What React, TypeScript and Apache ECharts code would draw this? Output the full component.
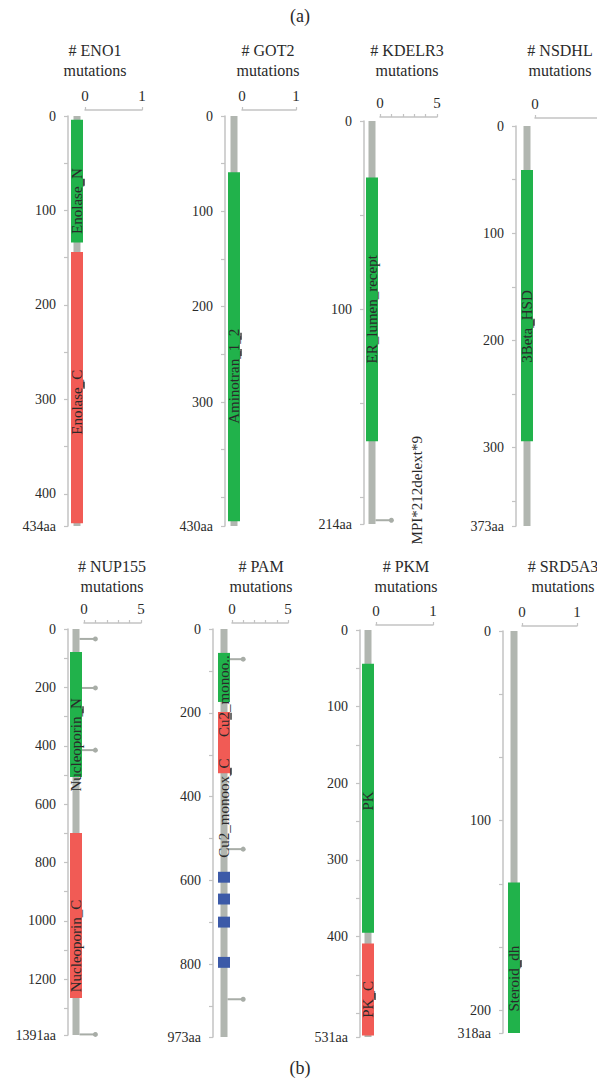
import React, { useEffect, useRef } from "react";
import * as echarts from "echarts";

// ---------------- data ----------------
const proteins = ["ENO1", "GOT2", "KDELR3", "NSDHL", "NUP155", "PAM", "PKM", "SRD5A3"];
const proteinLengths = [434, 430, 214, 373, 1391, 973, 531, 318];
const maxMutationCounts = [1, 1, 5, 1, 5, 5, 1, 1];
const positionTickSteps = [50, 50, 50, 50, 100, 100, 50, 50];
const positionTickLabels: [number, string][][] = [
  [[0, "0"], [100, "100"], [200, "200"], [300, "300"], [400, "400"]],
  [[0, "0"], [100, "100"], [200, "200"], [300, "300"]],
  [[0, "0"], [100, "100"]],
  [[0, "0"], [100, "100"], [200, "200"], [300, "300"]],
  [[0, "0"], [200, "200"], [400, "400"], [600, "600"], [800, "800"], [1000, "1000"], [1200, "1200"]],
  [[0, "0"], [200, "200"], [400, "400"], [600, "600"], [800, "800"]],
  [[0, "0"], [100, "100"], [200, "200"], [300, "300"], [400, "400"]],
  [[0, "0"], [150, "100"], [300, "200"]],
];
// count-axis labels shown (the NSDHL "1" falls outside the picture)
const countAxisLabels: string[][] = [
  ["0", "1"], ["0", "1"], ["0", "5"], ["0"], ["0", "5"], ["0", "5"], ["0", "1"], ["0", "1"],
];

// [protein, label, start aa, end aa, kind, label centre aa]
const domains: [string, string, number, number, string, number | null][] = [
  ["ENO1", "Enolase_N", 4, 134, "N", 90],
  ["ENO1", "Enolase_C", 144, 431, "C", 303],
  ["GOT2", "Aminotran_1_2", 59, 425, "N", 273],
  ["KDELR3", "ER_lumen_recept", 30, 170, "N", 100],
  ["NSDHL", "3Beta_HSD", 41, 294, "N", 187],
  ["NUP155", "Nucleoporin_N", 79, 507, "N", 397],
  ["NUP155", "Nucleoporin_C", 699, 1264, "C", 1086],
  ["PAM", "Cu2_monoo..", 57, 174, "N", 160],
  ["PAM", "Cu2_monoox_C", 198, 344, "C", 427],
  ["PAM", "", 579, 605, "R", null],
  ["PAM", "", 631, 657, "R", null],
  ["PAM", "", 686, 712, "R", null],
  ["PAM", "", 782, 808, "R", null],
  ["PKM", "PK", 44, 395, "N", 223],
  ["PKM", "PK_C", 409, 529, "C", 482],
  ["SRD5A3", "Steroid_dh", 199, 318, "N", 275],
];

// [protein, aa, count, label]
const mutations: [string, number, number, string][] = [
  ["KDELR3", 212, 1, "MPI*212delext*9"],
  ["NUP155", 34, 1, ""],
  ["NUP155", 202, 1, ""],
  ["NUP155", 415, 1, ""],
  ["NUP155", 1389, 1, ""],
  ["PAM", 72, 1, ""],
  ["PAM", 525, 1, ""],
  ["PAM", 883, 1, ""],
];

// [protein, aa]
const markers: [string, number][] = [
  ["ENO1", 70], ["ENO1", 285],
  ["GOT2", 231], ["GOT2", 248],
  ["NSDHL", 183],
  ["NUP155", 277],
  ["PAM", 208], ["PAM", 339],
  ["PKM", 478],
  ["SRD5A3", 263],
];

// ---------------- layout / style ----------------
const layout = [
  { x0: 85, top: 116, height: 410, width: 57, yOff: 17, xOff: 6, titleX: 95, titleY: 40 },
  { x0: 242, top: 116, height: 410, width: 54, yOff: 17, xOff: 6, titleX: 268, titleY: 40 },
  { x0: 380, top: 121, height: 403, width: 57, yOff: 16, xOff: 4, titleX: 407, titleY: 40 },
  { x0: 535, top: 126, height: 400, width: 70, yOff: 19, xOff: 8, titleX: 560, titleY: 40 },
  { x0: 84, top: 629, height: 406, width: 57, yOff: 16, xOff: 6, titleX: 112, titleY: 556 },
  { x0: 232, top: 629, height: 408, width: 56, yOff: 19, xOff: 6, titleX: 261, titleY: 556 },
  { x0: 376, top: 630, height: 407, width: 57, yOff: 16, xOff: 5, titleX: 406, titleY: 556 },
  { x0: 522, top: 631, height: 402, width: 55, yOff: 19, xOff: 5, titleX: 563, titleY: 556 },
];

const FONT = "'Liberation Serif', 'Times New Roman', 'DejaVu Serif', serif";
const TEXT = "#2a2a2a";
const AXIS = "#c3c3c3";
const BACKBONE = "#b1b6b0";
const STEM = "#a8ada7";
const KIND_COLORS: Record<string, string> = { N: "#21b24b", C: "#f15b55", R: "#3c5aa8" };
const BACKBONE_SHIFT = 8;

function buildOption() {
  const grid: any[] = [];
  const xAxis: any[] = [];
  const yAxis: any[] = [];
  const series: any[] = [];
  const graphic: any[] = [];

  proteins.forEach((p, i) => {
    const l = layout[i];
    const L = proteinLengths[i];
    const maxC = maxMutationCounts[i];
    const labelMap = new Map<number, string>(positionTickLabels[i]);
    const countLabels = countAxisLabels[i];
    grid.push({ left: l.x0, top: l.top, width: l.width, height: l.height, containLabel: false, outerBoundsMode: "none" });
    xAxis.push({
      gridIndex: i, type: "value", position: "top", offset: l.xOff, min: 0, max: maxC, interval: 1,
      axisLine: { show: true, onZero: false, lineStyle: { color: AXIS, width: 1.5 } },
      axisTick: { show: true, length: 3, lineStyle: { color: AXIS, width: 1.2 } },
      axisLabel: {
        show: true, margin: 7, fontSize: 15, fontFamily: FONT, color: TEXT, hideOverlap: false,
        formatter: (v: number) => (countLabels.includes(String(v)) && (v === 0 || v === maxC) ? String(v) : ""),
      },
      splitLine: { show: false },
    });
    yAxis.push({
      gridIndex: i, type: "value", position: "left", offset: l.yOff, inverse: true, min: 0, max: L,
      interval: positionTickSteps[i],
      axisLine: { show: true, onZero: false, lineStyle: { color: AXIS, width: 1.5 } },
      axisTick: { show: true, length: 4, lineStyle: { color: AXIS, width: 1.2 } },
      axisLabel: {
        show: true, margin: 12, fontSize: 14, fontFamily: FONT, color: TEXT, hideOverlap: false,
        showMinLabel: true, showMaxLabel: true,
        formatter: (v: number) => (v === L ? `${L}aa` : labelMap.get(v) ?? ""),
      },
      splitLine: { show: false },
    });

    // backbone
    series.push({
      type: "custom", xAxisIndex: i, yAxisIndex: i, clip: false, z: 1, silent: true,
      data: [[0, 0, L]],
      renderItem: (_params: any, api: any) => {
        const a = api.coord([0, api.value(1)]);
        const b = api.coord([0, api.value(2)]);
        return {
          type: "rect",
          shape: { x: a[0] - BACKBONE_SHIFT - 3.5, y: a[1], width: 7, height: b[1] - a[1] },
          style: { fill: BACKBONE },
        };
      },
    });

    // mutations (lollipops)
    const muts = mutations.filter((m) => m[0] === p);
    if (muts.length) {
      series.push({
        type: "custom", xAxisIndex: i, yAxisIndex: i, clip: false, z: 2, silent: true,
        data: muts.map((m) => [m[2], m[1]]),
        renderItem: (params: any, api: any) => {
          const m = muts[params.dataIndex];
          const end = api.coord([api.value(0), api.value(1)]);
          const base = api.coord([0, api.value(1)]);
          const bx = base[0] - BACKBONE_SHIFT + 3.5;
          const children: any[] = [
            { type: "line", shape: { x1: bx, y1: end[1], x2: end[0], y2: end[1] }, style: { stroke: STEM, lineWidth: 2 } },
            { type: "circle", shape: { cx: end[0], cy: end[1], r: 2.5 }, style: { fill: STEM } },
          ];
          if (m[3]) {
            children.push({
              type: "text", x: end[0] + 26, y: end[1] - 30, rotation: Math.PI / 2,
              style: { text: m[3], fontSize: 15, fontFamily: FONT, fill: TEXT, align: "center", verticalAlign: "middle" },
            });
          }
          return { type: "group", children };
        },
      });
    }

    // domains
    const doms = domains.filter((d) => d[0] === p);
    series.push({
      type: "custom", xAxisIndex: i, yAxisIndex: i, clip: false, z: 3, silent: true,
      data: doms.map((d) => [0, d[2], d[3]]),
      renderItem: (params: any, api: any) => {
        const d = doms[params.dataIndex];
        const a = api.coord([0, api.value(1)]);
        const b = api.coord([0, api.value(2)]);
        const cx = a[0] - BACKBONE_SHIFT;
        return {
          type: "rect",
          shape: { x: cx - 6, y: a[1], width: 12, height: b[1] - a[1] },
          style: { fill: KIND_COLORS[d[4]] },
        };
      },
    });
    const labelled = doms.filter((d) => d[5] != null && d[1]);
    series.push({
      type: "custom", xAxisIndex: i, yAxisIndex: i, clip: false, z: 5, silent: true,
      data: labelled.map((d) => [0, d[5] as number]),
      renderItem: (params: any, api: any) => {
        const d = labelled[params.dataIndex];
        const c = api.coord([0, api.value(1)]);
        return {
          type: "text", x: c[0] - BACKBONE_SHIFT, y: c[1], rotation: Math.PI / 2,
          style: { text: d[1], fontSize: 15, fontFamily: FONT, fill: TEXT, align: "center", verticalAlign: "middle" },
        };
      },
    });

    // small markers at the domain edge
    const mks = markers.filter((m) => m[0] === p);
    if (mks.length) {
      series.push({
        type: "custom", xAxisIndex: i, yAxisIndex: i, clip: false, z: 4, silent: true,
        data: mks.map((m) => [0, m[1]]),
        renderItem: (_params: any, api: any) => {
          const c = api.coord([0, api.value(1)]);
          return {
            type: "rect",
            shape: { x: c[0] - BACKBONE_SHIFT + 6, y: c[1] - 3.5, width: 2, height: 7 },
            style: { fill: "#6f6f6f" },
          };
        },
      });
    }

    graphic.push({
      type: "text", x: l.titleX, y: l.titleY,
      style: {
        text: `# ${p}\nmutations`, fontSize: 16, lineHeight: 20, fontFamily: FONT, fill: TEXT,
        align: "center", verticalAlign: "top",
      },
    });
  });

  graphic.push({
    type: "text", x: 300, y: 16,
    style: { text: "(a)", fontSize: 18, fontFamily: FONT, fill: TEXT, align: "center", verticalAlign: "middle" },
  });
  graphic.push({
    type: "text", x: 300, y: 1068,
    style: { text: "(b)", fontSize: 18, fontFamily: FONT, fill: TEXT, align: "center", verticalAlign: "middle" },
  });

  return {
    animation: false,
    backgroundColor: "#ffffff",
    textStyle: { fontFamily: FONT },
    grid, xAxis, yAxis, series, graphic,
  };
}

export default function App() {
  const ref = useRef<HTMLDivElement>(null);
  useEffect(() => {
    document.body.style.margin = "0";
    if (!ref.current) return;
    const chart = echarts.init(ref.current, undefined, { renderer: "svg" });
    chart.setOption(buildOption() as any);
    return () => chart.dispose();
  }, []);
  return <div ref={ref} style={{ width: 597, height: 1085 }} />;
}
